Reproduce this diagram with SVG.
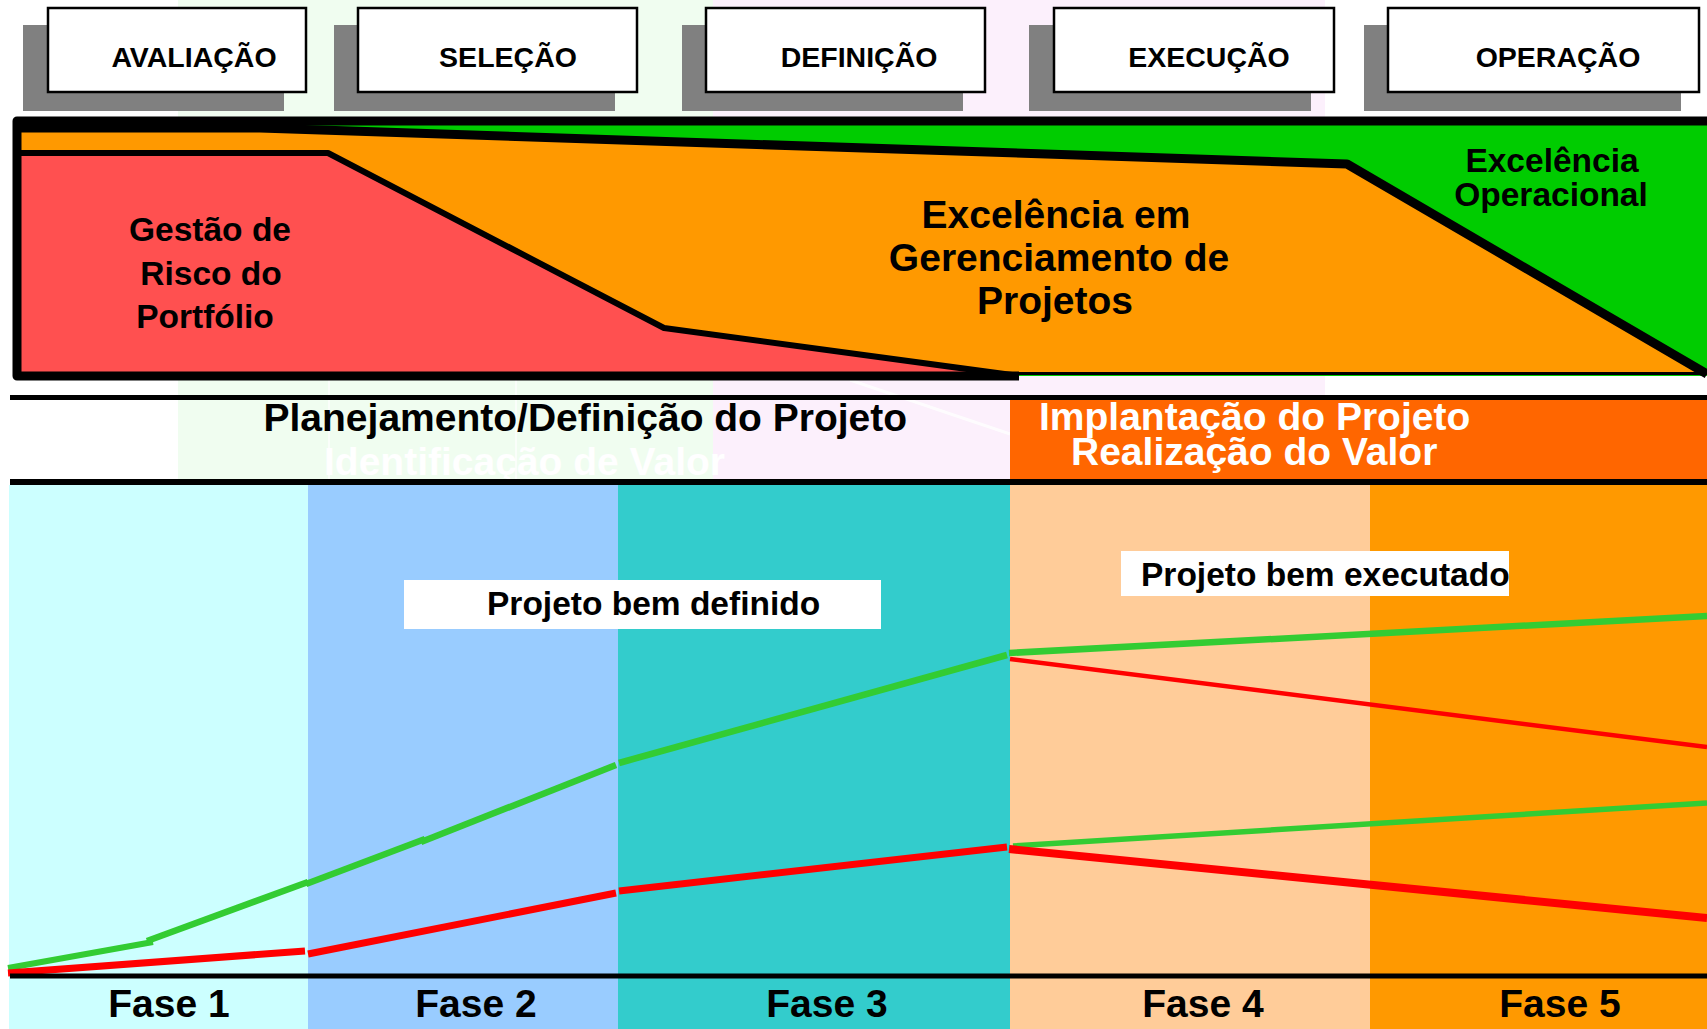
<svg xmlns="http://www.w3.org/2000/svg" width="1707" height="1029" viewBox="0 0 1707 1029">
<style>
text{font-family:"Liberation Sans",Arial,Helvetica,sans-serif;font-weight:bold;fill:#000}
.stage{font-size:28.5px;text-anchor:middle}
.shadow{fill:#808080}
.box{fill:#fff;stroke:#000;stroke-width:2.5}
.big{font-size:33.5px;text-anchor:middle}
.pm{font-size:39px;text-anchor:middle}
.op{font-size:33.5px;text-anchor:middle}
.band{font-size:39px}
.fase{font-size:39px;text-anchor:middle}
.lbl{font-size:33.5px}
.g{stroke:#33CC33;fill:none;stroke-linecap:butt}
.r{stroke:#FF0000;fill:none;stroke-linecap:butt}
.k{stroke:#000;fill:none}
</style>
<rect x="0" y="0" width="1707" height="1029" fill="#fff"/>
<!-- faint watermark background -->
<g id="watermark">
<rect x="178" y="0" width="535" height="485" fill="#F0FDF0"/>
<rect x="713" y="0" width="612" height="485" fill="#FCF0FC"/>
<line x1="850" y1="380" x2="1010" y2="434" stroke="#fff" stroke-width="3" opacity="0.8"/>
<line x1="329" y1="380" x2="329" y2="485" stroke="#fff" stroke-width="2" opacity="0.7"/>
<line x1="516" y1="380" x2="516" y2="485" stroke="#fff" stroke-width="2" opacity="0.7"/>
</g>
<!-- stage boxes -->
<g id="avaliacao">
<rect class="shadow" x="23" y="25" width="261" height="86"/>
<rect class="box" x="48" y="8" width="258" height="84"/>
<text class="stage" x="194" y="67">AVALIAÇÃO</text>
</g>
<g id="selecao">
<rect class="shadow" x="334" y="25" width="281" height="86"/>
<rect class="box" x="358" y="8" width="279" height="84"/>
<text class="stage" x="508" y="67">SELEÇÃO</text>
</g>
<g id="definicao">
<rect class="shadow" x="682" y="25" width="281" height="86"/>
<rect class="box" x="706" y="8" width="279" height="84"/>
<text class="stage" x="859" y="67">DEFINIÇÃO</text>
</g>
<g id="execucao">
<rect class="shadow" x="1029" y="25" width="282" height="86"/>
<rect class="box" x="1054" y="8" width="280" height="84"/>
<text class="stage" x="1209" y="67">EXECUÇÃO</text>
</g>
<g id="operacao">
<rect class="shadow" x="1364" y="25" width="317" height="86"/>
<rect class="box" x="1388" y="8" width="311" height="84"/>
<text class="stage" x="1558" y="67">OPERAÇÃO</text>
</g>
<!-- excellence band -->
<g id="excelencia-operacional">
<polygon points="17,121 1707,121 1707,376 17,376" fill="#00CC00"/>
<text class="op" x="1552" y="172">Excelência</text>
<text class="op" x="1551" y="206">Operacional</text>
</g>
<g id="excelencia-projetos">
<polygon points="17,128 260,128 1347,164 1707,373 17,373" fill="#FF9900"/>
<text class="pm" x="1056" y="228">Excelência em</text>
<text class="pm" x="1059" y="271">Gerenciamento de</text>
<text class="pm" x="1055" y="314">Projetos</text>
</g>
<g id="gestao-risco">
<polygon points="17,153 328,153 664,328 1019,376 17,376" fill="#FF5050"/>
<text class="big" x="210" y="241">Gestão de</text>
<text class="big" x="211" y="285">Risco do</text>
<text class="big" x="205" y="328">Portfólio</text>
</g>
<g id="band-frame">
<path class="k" d="M17 128 L260 128 L1347 164 L1707 374" stroke-width="9" stroke-linejoin="round"/>
<path class="k" d="M17 153 L328 153 L664 328 L1019 376" stroke-width="6" stroke-linejoin="round"/>
<path class="k" d="M1019 373.5 H1707" stroke-width="3"/>
<path class="k" d="M1707 121 H17 V376 H1019" stroke-width="9" stroke-linejoin="round"/>
</g>
<!-- middle band -->
<g id="planejamento">
<text class="band" x="263.5" y="431">Planejamento/Definição do Projeto</text>
<text class="band" x="324" y="475" style="fill:#fff">Identificação de Valor</text>
</g>
<g id="implantacao">
<rect x="1010" y="400" width="697" height="79.5" fill="#FF6600"/>
<text class="band" x="1039" y="430" style="fill:#fff">Implantação do Projeto</text>
<text class="band" x="1071" y="465" style="fill:#fff">Realização do Valor</text>
</g>
<g id="band-lines">
<path class="k" d="M10 397.5 H1707" stroke-width="5"/>
<path class="k" d="M10 482 H1707" stroke-width="6"/>
</g>
<!-- phase columns -->
<g id="fase1">
<rect x="9" y="485" width="299" height="544" fill="#CCFFFF"/>
<text class="fase" x="169" y="1017">Fase 1</text>
</g>
<g id="fase2">
<rect x="308" y="485" width="310" height="544" fill="#99CCFF"/>
<text class="fase" x="476" y="1017">Fase 2</text>
</g>
<g id="fase3">
<rect x="618" y="485" width="392" height="544" fill="#33CCCC"/>
<text class="fase" x="827" y="1017">Fase 3</text>
</g>
<g id="fase4">
<rect x="1010" y="485" width="360" height="544" fill="#FFCC99"/>
<text class="fase" x="1203" y="1017">Fase 4</text>
</g>
<g id="fase5">
<rect x="1370" y="485" width="337" height="544" fill="#FF9900"/>
<text class="fase" x="1560" y="1017">Fase 5</text>
</g>
<g id="label-definido">
<rect x="404" y="580" width="477" height="49" fill="#fff"/>
<text class="lbl" x="487" y="615">Projeto bem definido</text>
</g>
<g id="label-executado">
<rect x="1121" y="551" width="388" height="45" fill="#fff"/>
<text class="lbl" x="1141" y="586">Projeto bem executado</text>
</g>
<!-- connectors: value curves -->
<g id="connectors">
<path class="g" d="M8 968 L153 942" stroke-width="6"/>
<path class="g" d="M147 941 L308 882" stroke-width="6.5"/>
<path class="g" d="M306 884 L425 839" stroke-width="6.5"/>
<path class="g" d="M421 842 L616 765" stroke-width="6.5"/>
<path class="g" d="M619 763 L1007 655" stroke-width="6.5"/>
<path class="g" d="M1009 653 L1707 616" stroke-width="6.5"/>
<path class="r" d="M1010 659 L1707 747" stroke-width="4.5"/>
<path class="g" d="M1013 846 L1707 803" stroke-width="5.5"/>
<path class="r" d="M8 973 L305 951" stroke-width="7"/>
<path class="r" d="M308 954 L616 893" stroke-width="7"/>
<path class="r" d="M619 891 L1007 847" stroke-width="7"/>
<path class="r" d="M1009 849 L1707 918" stroke-width="8"/>
<path class="k" d="M10 976 H1707" stroke-width="5"/>
</g>
</svg>
